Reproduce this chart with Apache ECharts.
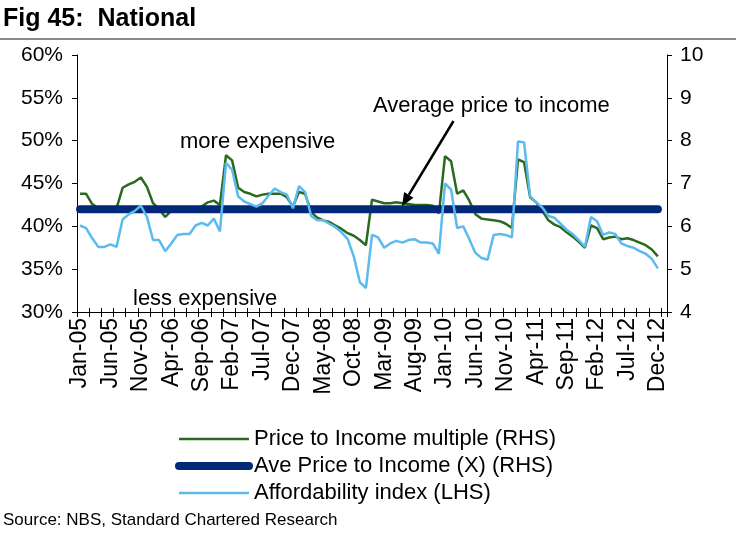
<!DOCTYPE html>
<html>
<head>
<meta charset="utf-8">
<script src="https://cdn.jsdelivr.net/npm/echarts@6/dist/echarts.min.js"></script>
<style>
html,body{margin:0;padding:0;background:#fff;}
#chart{width:736px;height:533px;}
</style>
</head>
<body>
<div id="chart"></div>
<script>
// Monthly categories (Jan-05 .. Dec-12, plus one empty trailing slot of plot space)
const months = [
 'Jan-05','Feb-05','Mar-05','Apr-05','May-05','Jun-05','Jul-05','Aug-05','Sep-05','Oct-05','Nov-05','Dec-05',
 'Jan-06','Feb-06','Mar-06','Apr-06','May-06','Jun-06','Jul-06','Aug-06','Sep-06','Oct-06','Nov-06','Dec-06',
 'Jan-07','Feb-07','Mar-07','Apr-07','May-07','Jun-07','Jul-07','Aug-07','Sep-07','Oct-07','Nov-07','Dec-07',
 'Jan-08','Feb-08','Mar-08','Apr-08','May-08','Jun-08','Jul-08','Aug-08','Sep-08','Oct-08','Nov-08','Dec-08',
 'Jan-09','Feb-09','Mar-09','Apr-09','May-09','Jun-09','Jul-09','Aug-09','Sep-09','Oct-09','Nov-09','Dec-09',
 'Jan-10','Feb-10','Mar-10','Apr-10','May-10','Jun-10','Jul-10','Aug-10','Sep-10','Oct-10','Nov-10','Dec-10',
 'Jan-11','Feb-11','Mar-11','Apr-11','May-11','Jun-11','Jul-11','Aug-11','Sep-11','Oct-11','Nov-11','Dec-11',
 'Jan-12','Feb-12','Mar-12','Apr-12','May-12','Jun-12','Jul-12','Aug-12','Sep-12','Oct-12','Nov-12','Dec-12',
 'Jan-13'
];

// Price to Income multiple (RHS)
const priceToIncome = [
 6.76,6.76,6.52,6.42,6.40,6.40,6.42,6.90,6.98,7.04,7.14,6.92,
 6.54,6.40,6.22,6.36,6.40,6.42,6.42,6.44,6.46,6.56,6.60,6.50,
 7.66,7.54,6.90,6.80,6.76,6.70,6.74,6.76,6.76,6.76,6.68,6.46,
 6.80,6.76,6.34,6.20,6.14,6.10,6.02,5.94,5.84,5.78,5.68,5.56,
 6.62,6.58,6.54,6.54,6.56,6.54,6.52,6.50,6.50,6.50,6.48,6.30,
 7.64,7.52,6.76,6.84,6.60,6.28,6.18,6.16,6.14,6.12,6.06,5.96,
 7.56,7.50,6.68,6.56,6.36,6.14,6.04,5.98,5.86,5.76,5.64,5.50,
 6.02,5.96,5.70,5.74,5.76,5.70,5.72,5.68,5.62,5.56,5.46,5.30
];

// Ave Price to Income (X) (RHS)
const avePriceToIncome = [
 6.4,6.4,6.4,6.4,6.4,6.4,6.4,6.4,6.4,6.4,6.4,6.4,
 6.4,6.4,6.4,6.4,6.4,6.4,6.4,6.4,6.4,6.4,6.4,6.4,
 6.4,6.4,6.4,6.4,6.4,6.4,6.4,6.4,6.4,6.4,6.4,6.4,
 6.4,6.4,6.4,6.4,6.4,6.4,6.4,6.4,6.4,6.4,6.4,6.4,
 6.4,6.4,6.4,6.4,6.4,6.4,6.4,6.4,6.4,6.4,6.4,6.4,
 6.4,6.4,6.4,6.4,6.4,6.4,6.4,6.4,6.4,6.4,6.4,6.4,
 6.4,6.4,6.4,6.4,6.4,6.4,6.4,6.4,6.4,6.4,6.4,6.4,
 6.4,6.4,6.4,6.4,6.4,6.4,6.4,6.4,6.4,6.4,6.4,6.4
];

// Affordability index (LHS, %)
const affordability = [
 40.1,39.8,38.6,37.6,37.6,37.9,37.6,40.8,41.4,41.8,42.4,41.1,
 38.4,38.4,37.1,38.0,39.0,39.1,39.1,40.1,40.4,40.1,40.9,39.4,
 47.4,46.6,43.5,42.9,42.6,42.3,42.7,43.6,44.4,44.0,43.7,42.1,
 44.7,44.0,41.2,40.7,40.7,40.3,39.9,39.3,38.5,36.5,33.5,32.8,
 39.0,38.7,37.5,38.0,38.3,38.1,38.4,38.5,38.1,38.1,38.0,36.8,
 45.0,44.3,39.8,40.0,38.5,36.9,36.3,36.1,39.0,39.1,39.0,38.7,
 49.9,49.8,43.5,42.8,42.2,41.2,41.0,40.3,39.6,39.1,38.4,37.6,
 41.1,40.6,39.0,39.3,39.1,38.0,37.7,37.5,37.1,36.8,36.2,35.1
];

// Axis ranges / ticks
const leftAxis = {min: 30, max: 60, interval: 5};
const rightAxis = {min: 4, max: 10, interval: 1};

const seriesNames = ['Price to Income multiple (RHS)', 'Ave Price to Income (X) (RHS)', 'Affordability index (LHS)'];

const FONT = '"Liberation Sans", Arial, sans-serif';
const GREEN = '#2b6a1e', NAVY = '#02287a', LBLUE = '#5bbaee';

const chart = echarts.init(document.getElementById('chart'), null, {renderer: 'canvas'});

const hiddenSymbol = {opacity: 0, borderWidth: 0, color: 'rgba(0,0,0,0)'};

chart.setOption({
  backgroundColor: '#fff',
  animation: false,
  textStyle: {fontFamily: FONT},
  grid: {left: 77, right: 69, top: 55, bottom: 221, containLabel: false},
  legend: {
    orient: 'vertical',
    left: 170,
    top: 423,
    itemWidth: 70,
    itemHeight: 14,
    itemGap: 5,
    textStyle: {fontSize: 22, color: '#000', fontFamily: FONT, lineHeight: 22},
    data: [
      {name: seriesNames[0], itemStyle: hiddenSymbol, lineStyle: {width: 2.5, color: GREEN}},
      {name: seriesNames[1], itemStyle: hiddenSymbol, lineStyle: {width: 8, color: NAVY, cap: 'round'}},
      {name: seriesNames[2], itemStyle: hiddenSymbol, lineStyle: {width: 2.5, color: LBLUE}}
    ]
  },
  xAxis: [{
    type: 'category',
    data: months,
    boundaryGap: true,
    axisLine: {show: true, lineStyle: {color: '#000', width: 1}},
    axisTick: {show: true, interval: 1, length: 5, lineStyle: {color: '#000'}},
    axisLabel: {interval: 4, rotate: 90, margin: 6, fontSize: 23, color: '#000', fontFamily: FONT},
    splitLine: {show: false}
  }, {
    type: 'category',
    data: months,
    position: 'bottom',
    boundaryGap: true,
    axisLine: {show: false},
    axisTick: {show: true, inside: true, interval: 1, length: 4, lineStyle: {color: '#000'}},
    axisLabel: {show: false},
    splitLine: {show: false}
  }],
  yAxis: [{
    type: 'value',
    position: 'left',
    min: leftAxis.min, max: leftAxis.max, interval: leftAxis.interval,
    axisLine: {show: true, lineStyle: {color: '#000', width: 1}},
    axisTick: {show: true, length: 5, lineStyle: {color: '#000'}},
    axisLabel: {formatter: '{value}%', fontSize: 21, margin: 14, color: '#000', fontFamily: FONT},
    splitLine: {show: false}
  }, {
    type: 'value',
    position: 'right',
    min: rightAxis.min, max: rightAxis.max, interval: rightAxis.interval,
    axisLine: {show: true, lineStyle: {color: '#000', width: 1}},
    axisTick: {show: true, length: 5, lineStyle: {color: '#000'}},
    axisLabel: {fontSize: 21, margin: 13, color: '#000', fontFamily: FONT},
    splitLine: {show: false}
  }],
  series: [{
    name: seriesNames[0],
    type: 'line',
    xAxisIndex: 0, yAxisIndex: 1,
    data: priceToIncome,
    symbol: 'none',
    lineStyle: {color: GREEN, width: 2.5},
    itemStyle: {color: GREEN},
    z: 2
  }, {
    name: seriesNames[1],
    type: 'line',
    xAxisIndex: 0, yAxisIndex: 1,
    data: avePriceToIncome,
    symbol: 'none',
    lineStyle: {color: NAVY, width: 8, cap: 'round'},
    itemStyle: {color: NAVY},
    z: 3
  }, {
    name: seriesNames[2],
    type: 'line',
    xAxisIndex: 0, yAxisIndex: 0,
    data: affordability,
    symbol: 'none',
    lineStyle: {color: LBLUE, width: 2.5},
    itemStyle: {color: LBLUE},
    z: 4
  }],
  graphic: [
    {type: 'text', left: 3, top: 7, style: {text: 'Fig 45:  National', font: 'bold 25px ' + FONT, fill: '#000'}},
    {type: 'line', shape: {x1: 0, y1: 39, x2: 736, y2: 39}, style: {stroke: '#8a8a8a', lineWidth: 2}},
    {type: 'text', left: 180, top: 131, style: {text: 'more expensive', font: '22px ' + FONT, fill: '#000'}},
    {type: 'text', left: 133, top: 288, style: {text: 'less expensive', font: '22px ' + FONT, fill: '#000'}},
    {type: 'text', left: 373, top: 95, style: {text: 'Average price to income', font: '22px ' + FONT, fill: '#000'}},
    {type: 'line', shape: {x1: 453.5, y1: 121, x2: 408.8, y2: 194.9}, style: {stroke: '#000', lineWidth: 2.5}, z: 10},
    {type: 'polygon', shape: {points: [[402, 206], [413.5, 197.8], [404.1, 192.0]]}, style: {fill: '#000'}, z: 10},
    {type: 'text', left: 3, top: 512, style: {text: 'Source: NBS, Standard Chartered Research', font: '17px ' + FONT, fill: '#000'}}
  ]
});
</script>
</body>
</html>
